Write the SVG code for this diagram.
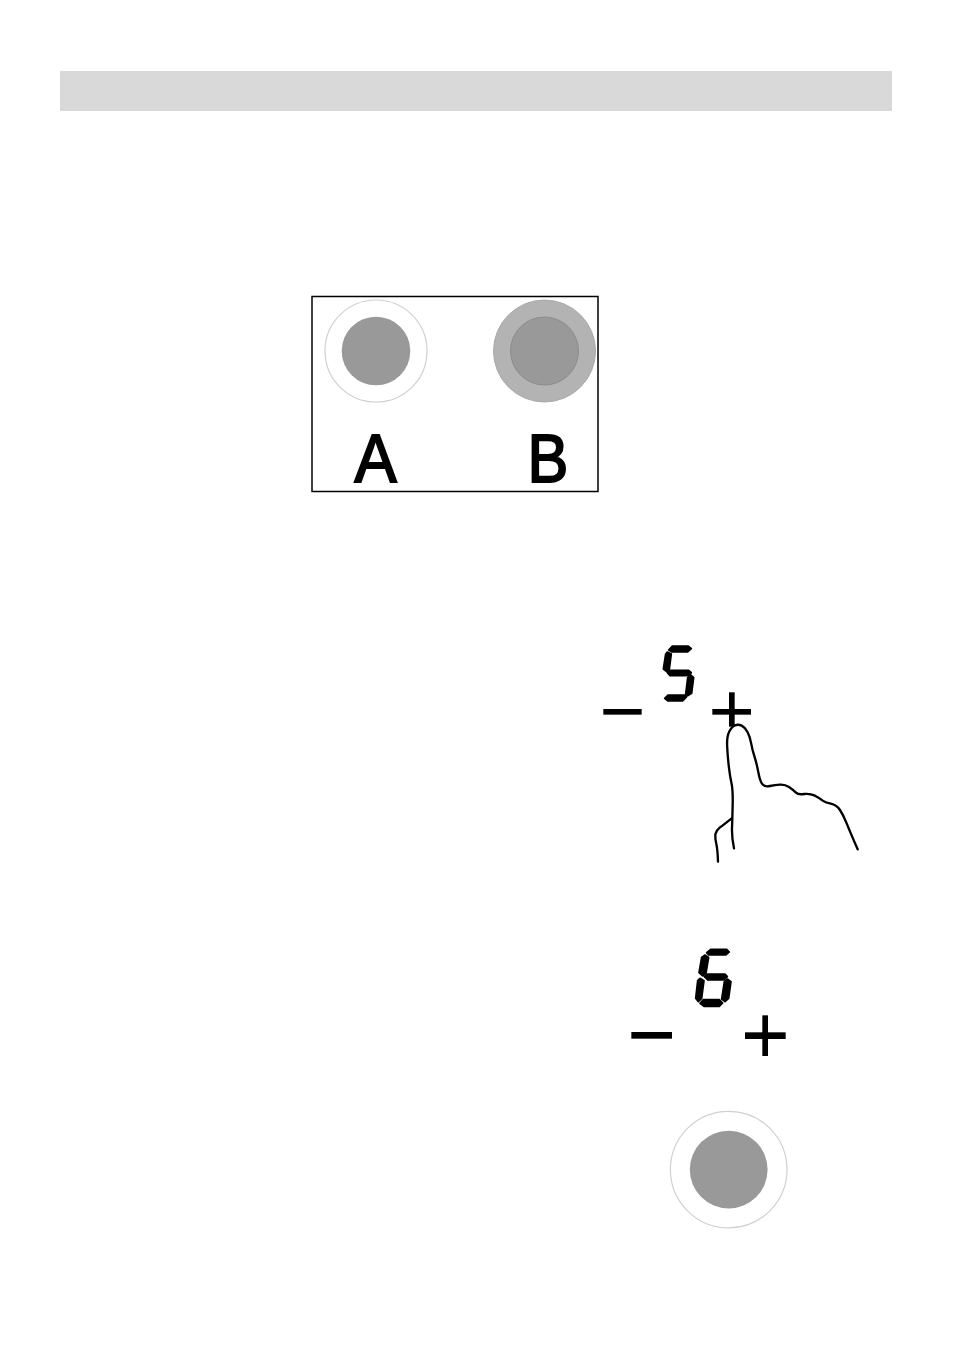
<svg xmlns="http://www.w3.org/2000/svg" width="954" height="1350" viewBox="0 0 954 1350">
<style>
.outer{fill:#fff;stroke:#d0d0d0;stroke-width:1.200}
.inner{fill:#999}
.lit{fill:#b3b3b3;stroke:#aaa;stroke-width:1}
.innerlit{fill:#999;stroke:#8c8c8c;stroke-width:1}
.label{font-family:"Liberation Sans",Arial,sans-serif;font-size:68px;fill:#000;stroke:#000;stroke-width:2px;text-anchor:middle}
.ink{fill:#000}
.seg{fill:#000;stroke:#000;stroke-width:5;stroke-linejoin:round}
.line{fill:none;stroke:#000;stroke-width:7;stroke-linecap:round;stroke-linejoin:round}
</style>
<rect width="954" height="1350" fill="#fff"/>
<rect id="title-bar" x="60" y="71" width="832" height="40" fill="#d9d9d9"/>
<g id="panel">
<rect x="312" y="296.500" width="286" height="195" fill="#fff" stroke="#000" stroke-width="1.500"/>
<g id="button-a"><circle class="outer" cx="376" cy="351" r="51"/><circle class="inner" cx="376" cy="351" r="34.300"/><text class="label" transform="translate(375.500 481.500) scale(.93 1)">A</text></g>
<g id="button-b"><circle class="lit" cx="544.500" cy="351" r="51"/><circle class="innerlit" cx="544.500" cy="351" r="34"/><text class="label" transform="translate(548 481.500) scale(.9 1)">B</text></g>
</g>
<g id="display-5" transform="translate(590 630) scale(.33333)">
<polygon class="seg" points="236,60 247,48 295,48 304,56 293,66 246,66"/>
<polygon class="seg" points="232,66 244,72 238,118 230,125 220,117 227,72"/>
<polygon class="seg" points="232,128 240,121 296,121 304,128 296,137 240,137"/>
<polygon class="seg" points="303,135 311,143 305,190 293,197 287,192 293,143"/>
<polygon class="seg" points="224,205 234,195 284,195 290,200 278,213 234,213"/>
<rect class="ink" x="40" y="237" width="115" height="17"/>
<rect class="ink" x="367" y="237" width="116" height="17"/>
<rect class="ink" x="417" y="187" width="17" height="103"/>
<path class="line" d="M432 655Q425 620 426 595Q427 570 428 525Q429 480 424.500 460Q420 440 416.500 410Q413 380 411.500 350Q410 320 417.500 305Q425 290 435 286Q445 282 455 287Q465 292 472.500 306Q480 320 483.500 340Q487 360 493.500 380Q500 400 505 427Q510 455 517.500 463Q525 472 540 468Q555 465 570 464Q585 463 597 471Q610 480 617 487Q625 495 642 492Q660 490 675 497Q690 505 697 511Q705 517 722 521Q740 525 750 540Q760 555 770 580Q780 605 803 658"/>
<path class="line" d="M425 565Q400 585 389 593Q378 602 376 613Q375 625 379 642Q383 660 384 695"/>
</g>
<g id="display-6" transform="translate(610 930) scale(.33333)">
<polygon class="seg" points="290,68 302,58 350,58 358,66 348,75 296,75"/>
<polygon class="seg" points="285,75 296,82 288,130 278,138 267,128 275,82"/>
<polygon class="seg" points="283,140 293,132 345,132 352,140 342,150 293,150"/>
<polygon class="seg" points="270,145 282,152 275,205 265,215 257,205 263,152"/>
<polygon class="seg" points="352,147 363,155 356,205 345,215 335,207 343,155"/>
<polygon class="seg" points="270,220 280,209 328,209 338,219 328,229 282,229"/>
<rect class="ink" x="64" y="306" width="122" height="20"/>
<rect class="ink" x="405" y="307" width="122" height="20"/>
<rect class="ink" x="457" y="256" width="17" height="122"/>
</g>
<g id="button-c"><circle class="outer" cx="728.700" cy="1169.600" r="58.300"/><circle class="inner" cx="728.700" cy="1169.600" r="38.900"/></g>
</svg>
